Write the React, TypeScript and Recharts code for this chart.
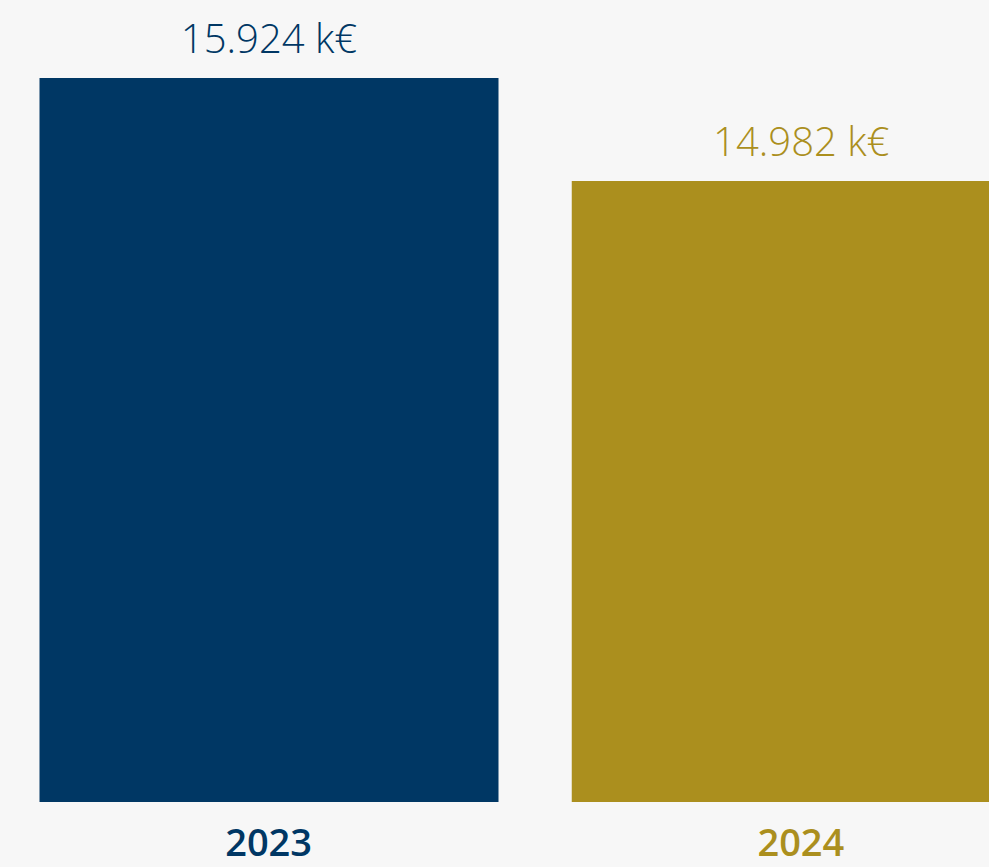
import React from 'react';
import { BarChart, Bar, XAxis, YAxis, Cell, LabelList } from 'recharts';

const YEARS = ['2023', '2024'];
const REVENUE_K = [15924, 14982];
const COLORS = ['#003764', '#ab8f1e'];

const data = YEARS.map((year, i) => ({ year, value: REVENUE_K[i] }));

const fmt = (n: number) => n.toLocaleString('de-DE') + ' k€';

const FONT = "'Open Sans', 'Noto Sans', sans-serif";

const YearTick = ({ x, y, payload, index }: any) => (
  <text
    x={x}
    y={y}
    dy={54}
    textAnchor="middle"
    fill={COLORS[index]}
    fontSize={38}
    fontWeight={600}
    fontFamily={FONT}
  >
    {payload.value}
  </text>
);

const ValueLabel = ({ x, y, width, value, index }: any) => (
  <text
    x={Number(x) + Number(width) / 2}
    y={Number(y) - 25}
    textAnchor="middle"
    fill={COLORS[index]}
    fontSize={40}
    fontWeight={300}
    fontFamily={FONT}
  >
    {fmt(Number(value))}
  </text>
);

export default function App() {
  return (
    <div
      style={{
        position: 'fixed', top: 0, left: 0, width: 989, height: 867,
        overflow: 'hidden', background: '#f7f7f7',
      }}
    >
      <BarChart
        width={1067}
        height={867}
        data={data}
        margin={{ top: 78, right: 0, bottom: 0, left: 2.5 }}
      >
        <XAxis
          dataKey="year"
          axisLine={false}
          tickLine={false}
          tickSize={0}
          tickMargin={0}
          height={65}
          interval={0}
          tick={<YearTick />}
        />
        <YAxis hide domain={[9300, 15924]} />
        <Bar dataKey="value" barSize={459} isAnimationActive={false}>
          {data.map((d, i) => (
            <Cell key={d.year} fill={COLORS[i]} />
          ))}
          <LabelList dataKey="value" content={<ValueLabel />} />
        </Bar>
      </BarChart>
    </div>
  );
}
